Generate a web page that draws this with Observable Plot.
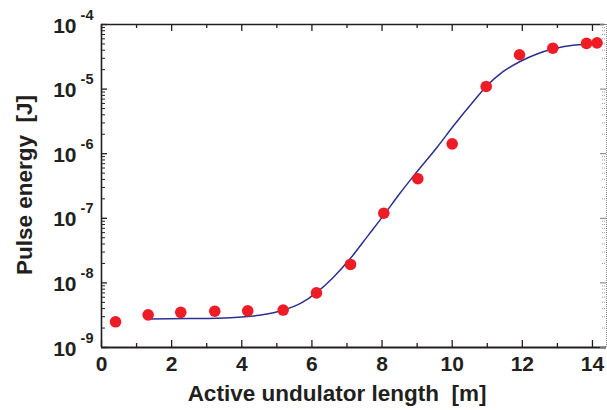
<!DOCTYPE html>
<html><head><meta charset="utf-8">
<script src="https://cdn.jsdelivr.net/npm/d3@7"></script>
<script src="https://cdn.jsdelivr.net/npm/@observablehq/plot@0.6"></script>
<style>body{margin:0;background:#fff} svg{display:block}</style>
</head><body><div id="chart"></div>
<script>
// measured points
const measLength = [0.4, 1.33, 2.26, 3.23, 4.17, 5.18, 6.13, 7.1, 8.05, 9.02, 10.0, 10.97, 11.92, 12.87, 13.83, 14.13];
const measEnergy = [2.5e-9, 3.2e-9, 3.5e-9, 3.65e-9, 3.7e-9, 3.8e-9, 7.0e-9, 1.93e-8, 1.2e-7, 4.1e-7, 1.42e-6, 1.1e-5, 3.4e-5, 4.3e-5, 5.1e-5, 5.2e-5];
// fitted curve
const fitLength = [1.33, 2.5, 3.68, 4.5, 5.2, 5.7, 6.15, 6.6, 7.1, 7.6, 8.05, 8.5, 8.95, 9.57, 10.05, 10.62, 10.97, 11.45, 11.95, 12.4, 12.9, 13.5, 14.07];
const fitEnergy = [2.75e-9, 2.8e-9, 2.9e-9, 3.16e-9, 3.8e-9, 4.9e-9, 7.2e-9, 1.2e-8, 2.4e-8, 5.4e-8, 1.12e-7, 2.4e-7, 4.9e-7, 1.26e-6, 2.75e-6, 6.6e-6, 1.1e-5, 1.86e-5, 2.7e-5, 3.47e-5, 4.2e-5, 4.8e-5, 5.0e-5];
// ticks
const xMajor = [0, 2, 4, 6, 8, 10, 12, 14];
const xMinor = [1, 3, 5, 7, 9, 11, 13];
const yDecades = [1e-9, 1e-8, 1e-7, 1e-6, 1e-5, 1e-4];
const yExponents = ["-9", "-8", "-7", "-6", "-5", "-4"];
const yMinorMult = [2, 3, 4, 5, 6, 7, 8, 9];
const xTitle = "Active undulator length  [m]";
const yTitle = "Pulse energy  [J]";

const points = measLength.map((x, i) => ({x, y: measEnergy[i]}));
const fit = fitLength.map((x, i) => ({x, y: fitEnergy[i]}));
const yMinor = yDecades.slice(0, -1).flatMap(d => yMinorMult.map(m => d * m));
const yLabels = yDecades.map((d, i) => ({y: d, e: yExponents[i]}));

const W = 607, H = 410, mL = 101, mR = 1, mT = 24, mB = 63;
const fw = W - mL - mR, fh = H - mT - mB;
const font = "'Liberation Sans', Arial, sans-serif";
const ink = "#231f20";

const chart = Plot.plot({
  width: W, height: H,
  marginLeft: mL, marginRight: mR, marginTop: mT, marginBottom: mB,
  style: {fontFamily: font, background: "#fff", color: ink},
  x: {domain: [0, 14.4], axis: null},
  y: {type: "log", domain: [1e-9, 1e-4], axis: null},
  marks: [
    // frame lines
    Plot.ruleX([0], {stroke: ink, strokeWidth: 1.6}),
    Plot.ruleY([1e-9], {stroke: ink, strokeWidth: 1.8}),
    Plot.ruleY([1e-4], {stroke: ink, strokeWidth: 1.6, insetRight: 2}),
    Plot.ruleX([14.4], {stroke: "#888", strokeWidth: 1, strokeDasharray: "1,1"}),
    // x ticks bottom & top
    Plot.ruleX(xMajor, {x: d => d, stroke: ink, strokeWidth: 1.3, insetTop: fh - 7}),
    Plot.ruleX(xMinor, {x: d => d, stroke: ink, strokeWidth: 1.3, insetTop: fh - 4}),
    Plot.ruleX(xMajor, {x: d => d, stroke: ink, strokeWidth: 1.3, insetBottom: fh - 7}),
    Plot.ruleX(xMinor, {x: d => d, stroke: ink, strokeWidth: 1.3, insetBottom: fh - 4}),
    // y ticks left & right
    Plot.ruleY(yDecades, {y: d => d, stroke: ink, strokeWidth: 1.3, insetRight: fw - 6}),
    Plot.ruleY(yMinor, {y: d => d, stroke: ink, strokeWidth: 1, insetRight: fw - 4}),
    Plot.ruleY(yDecades, {y: d => d, stroke: "#777", strokeWidth: 1, insetLeft: fw - 6}),
    Plot.ruleY(yMinor, {y: d => d, stroke: "#999", strokeWidth: 1, strokeDasharray: "1,1", insetLeft: fw - 4}),
    // x tick labels
    Plot.text(xMajor, {x: d => d, text: d => String(d), frameAnchor: "bottom", lineAnchor: "bottom", dy: 23, fontSize: 21, fontWeight: "bold", fill: ink}),
    // y tick labels: "10" + superscript exponent
    Plot.text(yLabels, {y: "y", text: () => "10", frameAnchor: "left", textAnchor: "end", lineAnchor: "bottom", dx: -25, dy: 8, fontSize: 21, fontWeight: "bold", fill: ink}),
    Plot.text(yLabels, {y: "y", text: "e", frameAnchor: "left", textAnchor: "end", lineAnchor: "bottom", dx: -8, dy: -5, fontSize: 14.5, fontWeight: "bold", fill: ink}),
    // axis titles
    Plot.text([xTitle], {text: d => d, frameAnchor: "bottom", textAnchor: "middle", lineAnchor: "bottom", dx: -17, dy: 53, fontSize: 22.5, fontWeight: "bold", fill: ink}),
    Plot.text([yTitle], {text: d => d, frameAnchor: "left", textAnchor: "middle", lineAnchor: "bottom", rotate: -90, dx: -70, dy: -1, fontSize: 22.5, fontWeight: "bold", fill: ink}),
    // fit curve
    Plot.line(fit, {x: "x", y: "y", stroke: "#2b3090", strokeWidth: 1.5, curve: "monotone-x"}),
    // data points
    Plot.dot(points, {x: "x", y: "y", r: 5.8, fill: "#ee1c25", stroke: "none"})
  ]
});
document.getElementById("chart").appendChild(chart);
</script>
</body></html>
